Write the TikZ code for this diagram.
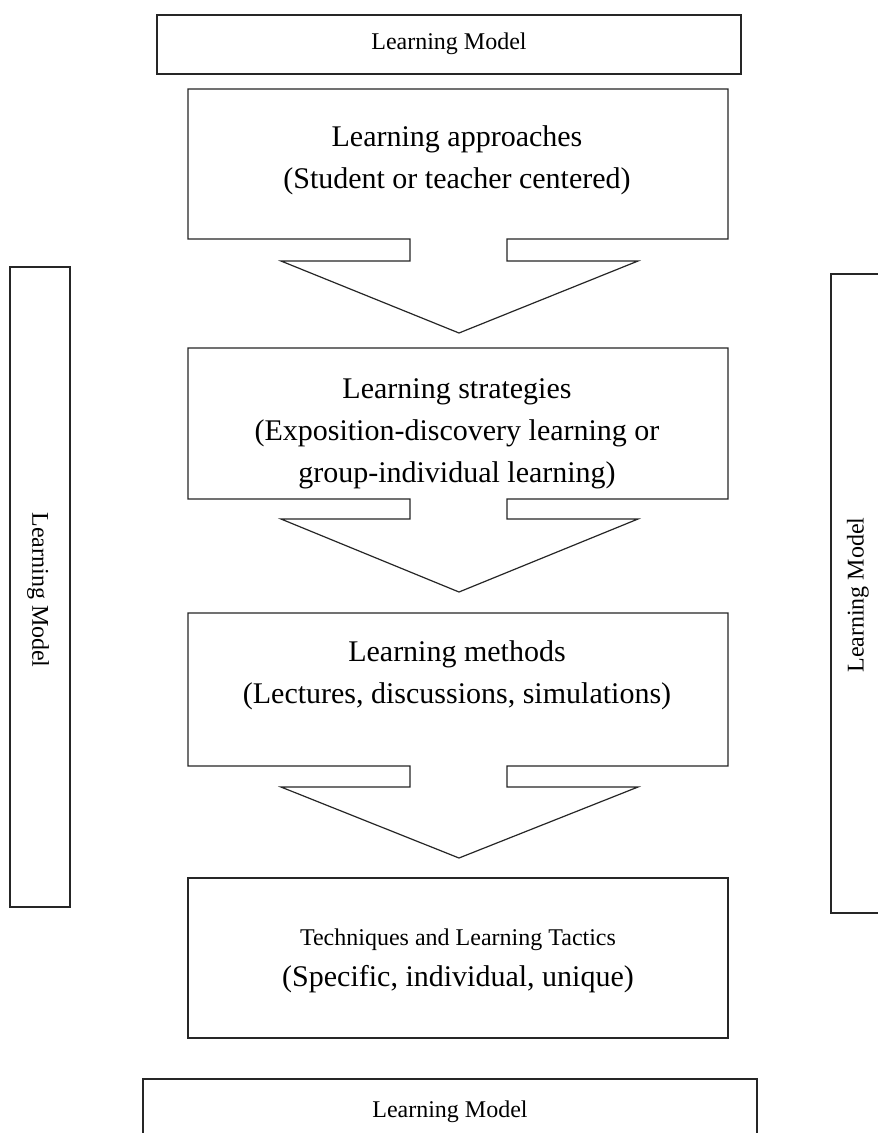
\documentclass[tikz,border=0pt]{standalone}
\usepackage{fontspec}
\setmainfont{Liberation Serif}
\begin{document}
\begin{tikzpicture}[x=0.75pt,y=-0.75pt,
  frame/.style={draw=black!85,line width=0.9pt,line join=miter},
  big/.style={font=\fontsize{22.5}{31.5}\selectfont,align=center,inner sep=0pt},
  small/.style={font=\fontsize{18}{22}\selectfont,align=center,inner sep=0pt}]
\clip (0,0) rectangle (878,1133);
\fill[white] (0,0) rectangle (878,1133);
% top title box
\draw[frame] (157,15) rectangle (741,74);
\node[small] (top) at (449,44) {Learning Model};
% side boxes
\draw[frame] (10,267) rectangle (70,907);
\node[small,rotate=-90] (left) at (38,590) {Learning Model};
\draw[frame] (890,274) -- (831,274) -- (831,913) -- (890,913);
\node[small,rotate=90] (right) at (858,595) {Learning Model};
% callout 1
\draw[frame] (188,89) -- (728,89) -- (728,239) -- (507,239) -- (507,261) -- (638,261)
  -- (459,333) -- (281,261) -- (410,261) -- (410,239) -- (188,239) -- cycle;
\node[big] (c1) at (457,160) {Learning approaches\\(Student or teacher centered)};
% callout 2
\draw[frame] (188,348) -- (728,348) -- (728,499) -- (507,499) -- (507,519) -- (638,519)
  -- (459,592) -- (281,519) -- (410,519) -- (410,499) -- (188,499) -- cycle;
\node[big] (c2) at (457,434) {Learning strategies\\(Exposition-discovery learning or\\group-individual learning)};
% callout 3
\draw[frame] (188,613) -- (728,613) -- (728,766) -- (507,766) -- (507,787) -- (638,787)
  -- (459,858) -- (281,787) -- (410,787) -- (410,766) -- (188,766) -- cycle;
\node[big] (c3) at (457,675) {Learning methods\\(Lectures, discussions, simulations)};
% techniques box
\draw[frame] (188,878) rectangle (728,1038);
\node[small] (t1) at (458,940) {Techniques and Learning Tactics};
\node[big] (t2) at (458,979) {(Specific, individual, unique)};
% bottom box
\draw[frame] (143,1145) -- (143,1079) -- (757,1079) -- (757,1145);
\node[small] (bot) at (450,1112) {Learning Model};
\end{tikzpicture}
\end{document}
